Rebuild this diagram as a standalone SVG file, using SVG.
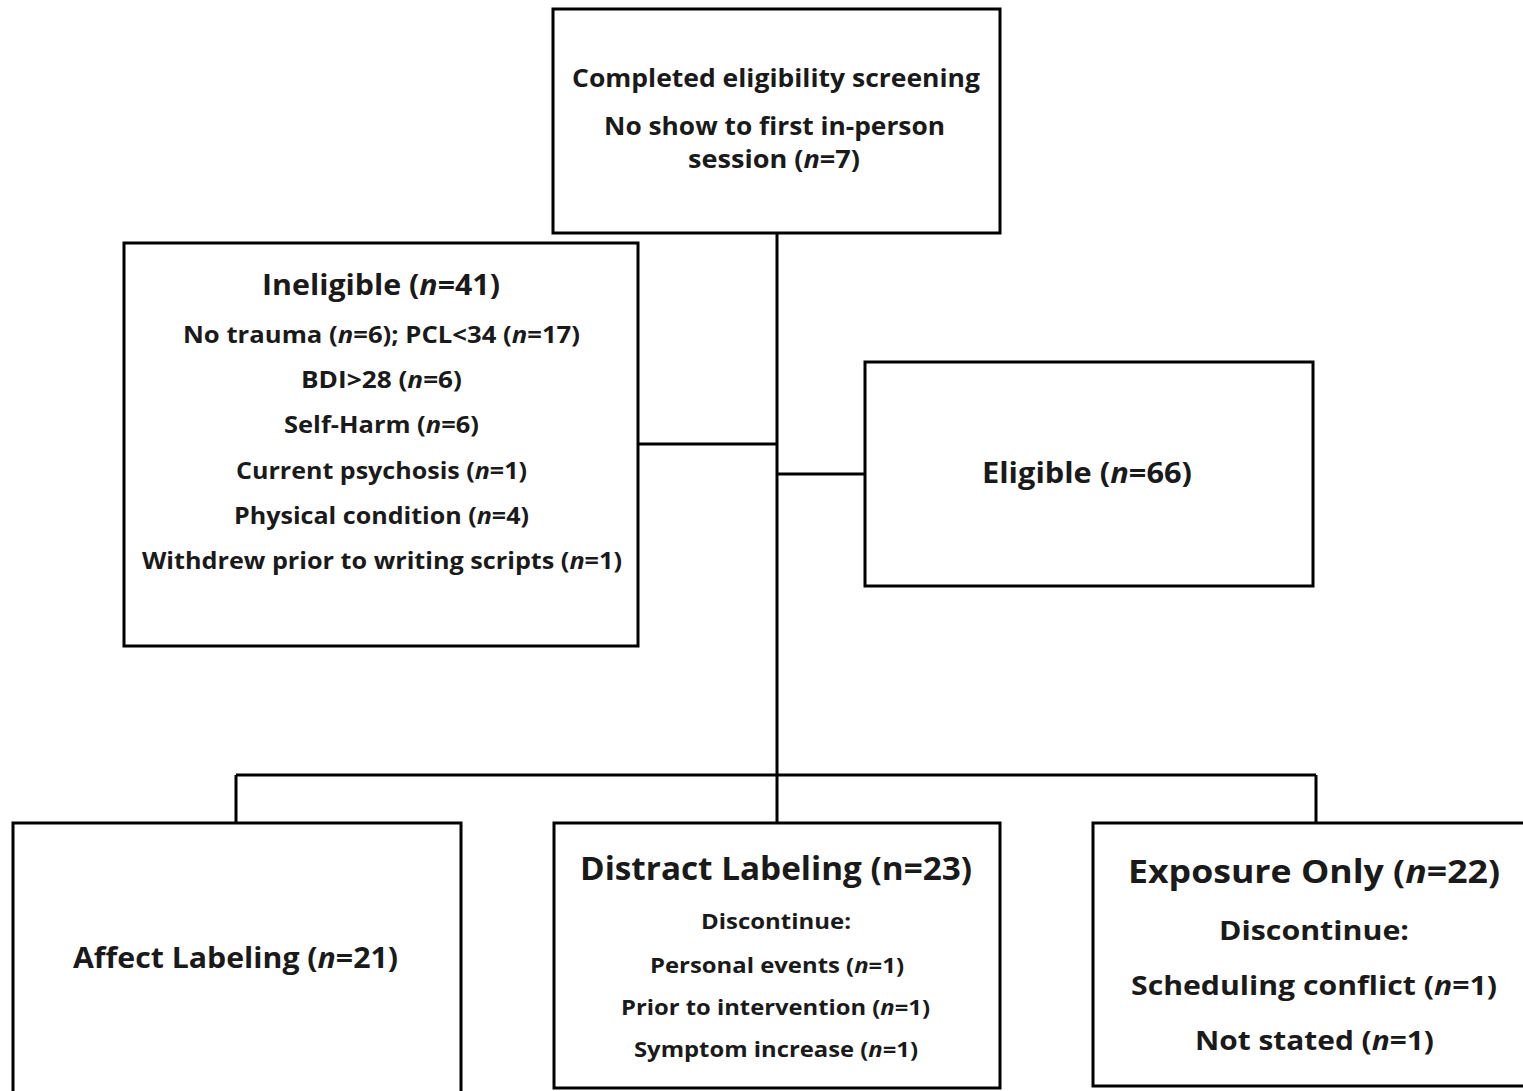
<svg xmlns="http://www.w3.org/2000/svg" width="1523" height="1091" viewBox="0 0 1523 1091">
<style>
.box{fill:#fff;stroke:#000;stroke-width:3}
.ln{fill:none;stroke:#000;stroke-width:3}
text{font-family:"Open Sans","Liberation Sans",sans-serif;font-weight:bold;fill:#1a1a1a}
.i{font-style:italic}
</style>
<rect width="1523" height="1091" fill="#fff"/>
<g id="connectors">
<path class="ln" d="M777 233 V775"/>
<path class="ln" d="M638 444 H777"/>
<path class="ln" d="M777 474 H864"/>
<path class="ln" d="M236 775 H1316"/>
<path class="ln" d="M236 775 V822 M777 775 V822 M1316 775 V822"/>
</g>
<g id="screening">
<rect class="box" x="553" y="9" width="447" height="224"/>
<text x="572" y="87" font-size="25" textLength="408" lengthAdjust="spacingAndGlyphs">Completed eligibility screening</text>
<text x="604" y="135" font-size="25" textLength="341" lengthAdjust="spacingAndGlyphs">No show to first in-person</text>
<text x="688" y="168" font-size="25" textLength="172" lengthAdjust="spacingAndGlyphs">session (<tspan class="i">n</tspan>=7)</text>
</g>
<g id="ineligible">
<rect class="box" x="124" y="243" width="514" height="403"/>
<text x="262" y="295" font-size="29" textLength="238" lengthAdjust="spacingAndGlyphs">Ineligible (<tspan class="i">n</tspan>=41)</text>
<text x="183" y="343" font-size="23" textLength="397" lengthAdjust="spacingAndGlyphs">No trauma (<tspan class="i">n</tspan>=6); PCL&lt;34 (<tspan class="i">n</tspan>=17)</text>
<text x="301" y="388" font-size="23" textLength="161" lengthAdjust="spacingAndGlyphs">BDI&gt;28 (<tspan class="i">n</tspan>=6)</text>
<text x="284" y="433" font-size="23" textLength="195" lengthAdjust="spacingAndGlyphs">Self-Harm (<tspan class="i">n</tspan>=6)</text>
<text x="236" y="479" font-size="23" textLength="291" lengthAdjust="spacingAndGlyphs">Current psychosis (<tspan class="i">n</tspan>=1)</text>
<text x="234" y="524" font-size="23" textLength="295" lengthAdjust="spacingAndGlyphs">Physical condition (<tspan class="i">n</tspan>=4)</text>
<text x="142" y="569" font-size="23" textLength="480" lengthAdjust="spacingAndGlyphs">Withdrew prior to writing scripts (<tspan class="i">n</tspan>=1)</text>
</g>
<g id="eligible">
<rect class="box" x="865" y="362" width="448" height="224"/>
<text x="982" y="483" font-size="29" textLength="210" lengthAdjust="spacingAndGlyphs">Eligible (<tspan class="i">n</tspan>=66)</text>
</g>
<g id="affect">
<rect class="box" x="13" y="823" width="448" height="280"/>
<text x="73" y="968" font-size="29" textLength="325" lengthAdjust="spacingAndGlyphs">Affect Labeling (<tspan class="i">n</tspan>=21)</text>
</g>
<g id="distract">
<rect class="box" x="554" y="823" width="446" height="265"/>
<text x="580" y="880" font-size="33" textLength="392" lengthAdjust="spacingAndGlyphs">Distract Labeling (n=23)</text>
<text x="701" y="929" font-size="21" textLength="150" lengthAdjust="spacingAndGlyphs">Discontinue:</text>
<text x="650" y="973" font-size="21" textLength="254" lengthAdjust="spacingAndGlyphs">Personal events (<tspan class="i">n</tspan>=1)</text>
<text x="621" y="1015" font-size="21" textLength="309" lengthAdjust="spacingAndGlyphs">Prior to intervention (<tspan class="i">n</tspan>=1)</text>
<text x="634" y="1057" font-size="21" textLength="284" lengthAdjust="spacingAndGlyphs">Symptom increase (<tspan class="i">n</tspan>=1)</text>
</g>
<g id="exposure">
<rect class="box" x="1093" y="823" width="440" height="263"/>
<text x="1128" y="883" font-size="33" textLength="372" lengthAdjust="spacingAndGlyphs">Exposure Only (<tspan class="i">n</tspan>=22)</text>
<text x="1219" y="940" font-size="27" textLength="190" lengthAdjust="spacingAndGlyphs">Discontinue:</text>
<text x="1131" y="995" font-size="27" textLength="366" lengthAdjust="spacingAndGlyphs">Scheduling conflict (<tspan class="i">n</tspan>=1)</text>
<text x="1195" y="1050" font-size="27" textLength="239" lengthAdjust="spacingAndGlyphs">Not stated (<tspan class="i">n</tspan>=1)</text>
</g>
</svg>
